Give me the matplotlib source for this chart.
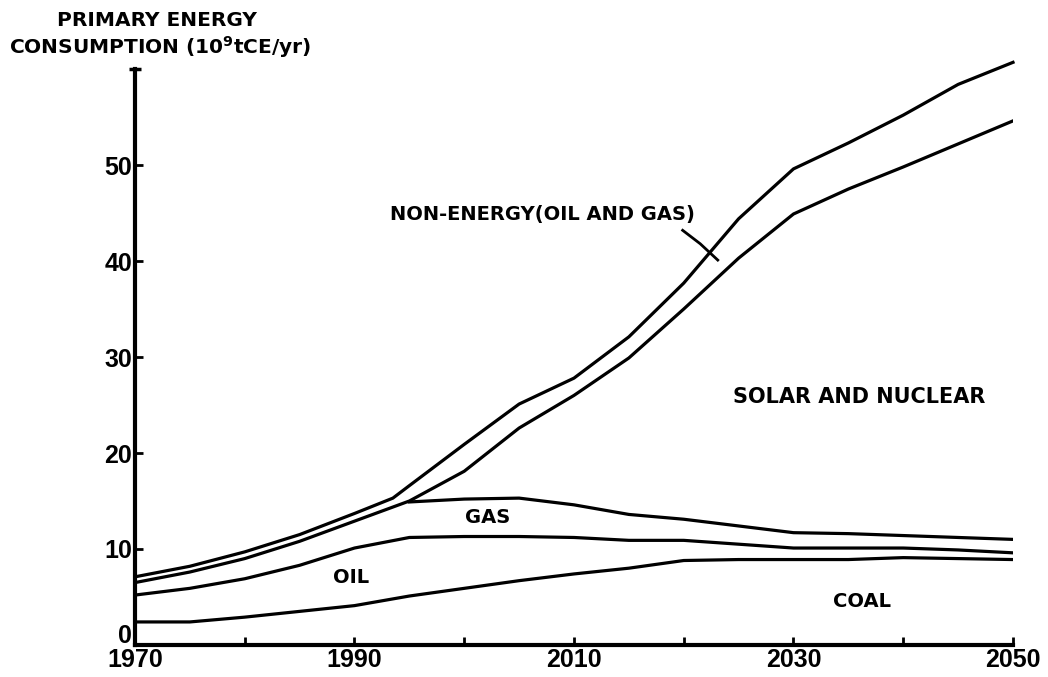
import numpy as np
import matplotlib
matplotlib.use('Agg')
import matplotlib.pyplot as plt
from matplotlib.transforms import ScaledTranslation

# Data (cumulative boundaries, 10^9 tCE/yr)
years = [1970, 1975, 1980, 1985, 1990, 1995, 2000, 2005, 2010, 2015,
         2020, 2025, 2030, 2035, 2040, 2045, 2050]
coal_top = [2.4, 2.4, 2.9, 3.5, 4.1, 5.1, 5.9, 6.7, 7.4, 8.0,
            8.8, 8.9, 8.9, 8.9, 9.1, 9.0, 8.9]
oil_top = [5.2, 5.9, 6.9, 8.3, 10.1, 11.2, 11.3, 11.3, 11.2, 10.9,
           10.9, 10.5, 10.1, 10.1, 10.1, 9.9, 9.6]
gas_years = [1995, 2000, 2005, 2010, 2015, 2020, 2025, 2030, 2035, 2040, 2045, 2050]
gas_top = [14.9, 15.2, 15.3, 14.6, 13.6, 13.1, 12.4, 11.7, 11.6, 11.4, 11.2, 11.0]
energy_top = [6.5, 7.6, 9.0, 10.8, 12.9, 15.0, 18.1, 22.6, 26.0, 29.9,
              35.0, 40.3, 44.9, 47.5, 49.8, 52.2, 54.6]
total_years = [1970, 1975, 1980, 1985, 1990, 1993.5, 1995, 2000, 2005, 2010, 2015,
               2020, 2025, 2030, 2035, 2040, 2045, 2050]
total_top = [7.1, 8.2, 9.7, 11.5, 13.7, 15.3, 16.6, 20.9, 25.1, 27.8, 32.1,
             37.7, 44.4, 49.6, 52.3, 55.2, 58.4, 60.7]

xtick_vals = [1970, 1980, 1990, 2000, 2010, 2020, 2030, 2040, 2050]
xtick_labels = ['1970', '', '1990', '', '2010', '', '2030', '', '2050']
ytick_vals = [0, 10, 20, 30, 40, 50]

digits = ['Liberation Sans', 'DejaVu Sans']
bold = ['DejaVu Sans']

fig = plt.figure(figsize=(10.48, 6.77), dpi=100)
ax = fig.add_axes([0.1288, 0.0473, 0.8378, 0.8507])

lw = 2.3
ax.plot(years, coal_top, color='black', lw=lw)
ax.plot(years, oil_top, color='black', lw=lw)
ax.plot(gas_years, gas_top, color='black', lw=lw)
ax.plot(years, energy_top, color='black', lw=lw)
ax.plot(total_years, total_top, color='black', lw=lw, clip_on=False)

ax.set_xlim(1970, 2050)
ax.set_ylim(0, 60)

# Axes styling
for side in ['top', 'right']:
    ax.spines[side].set_visible(False)
ax.spines['left'].set_linewidth(3)
ax.spines['bottom'].set_linewidth(3)
# little cap on top of y axis
ax.plot([1970], [60], marker='_', markersize=9, mew=2.5, color='black', clip_on=False)

ax.set_xticks(xtick_vals)
ax.set_xticklabels(xtick_labels)
ax.set_yticks(ytick_vals)
ax.tick_params(axis='both', direction='in', length=6, width=2, pad=2)
for lab in ax.get_xticklabels() + ax.get_yticklabels():
    lab.set_family(digits)
    lab.set_fontweight('bold')
    lab.set_fontsize(18)
# the "0" sits a bit above the axis line
zero_lab = ax.get_yticklabels()[0]
zero_lab.set_transform(zero_lab.get_transform() + ScaledTranslation(0, 8 / 72, fig.dpi_scale_trans))

# Y label
fig.text(0.150, 0.970, 'PRIMARY ENERGY', ha='center', va='center',
         family=bold, fontweight='bold', fontsize=14.5)
fig.text(0.153, 0.930, 'CONSUMPTION (10$^{\\mathbf{9}}$tCE/yr)', ha='center', va='center',
         family=bold, fontweight='bold', fontsize=14.5)

# In-plot labels
ax.text(2007.1, 44.8, 'NON-ENERGY(OIL AND GAS)', ha='center', va='center',
        family=bold, fontweight='bold', fontsize=14)
ax.plot([2019.9, 2021.5, 2023.1], [43.2, 41.8, 40.1], color='black', lw=2)
ax.text(2036.0, 25.8, 'SOLAR AND NUCLEAR', ha='center', va='center',
        family=bold, fontweight='bold', fontsize=15)
ax.text(2002.1, 13.3, 'GAS', ha='center', va='center',
        family=bold, fontweight='bold', fontsize=14)
ax.text(1989.7, 7.0, 'OIL', ha='center', va='center',
        family=bold, fontweight='bold', fontsize=14)
ax.text(2036.2, 4.5, 'COAL', ha='center', va='center',
        family=bold, fontweight='bold', fontsize=14)

fig.savefig('out.png', dpi=100)
